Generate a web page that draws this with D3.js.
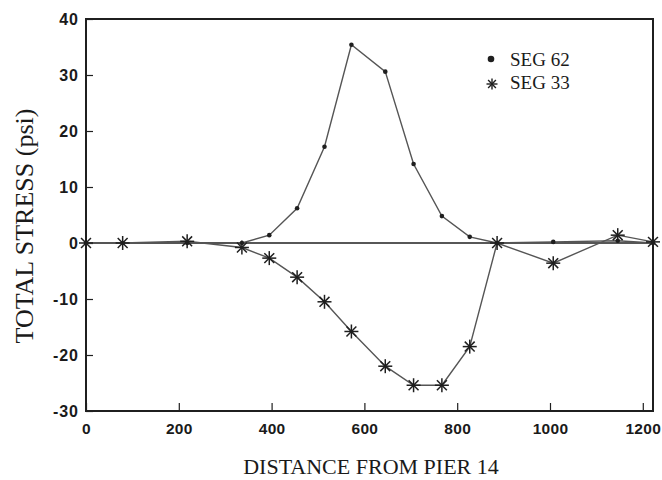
<!DOCTYPE html>
<html>
<head>
<meta charset="utf-8">
<script src="https://cdn.jsdelivr.net/npm/d3@7"></script>
<style>
  body { margin: 0; background: #fff; }
  svg { display: block; }
  .tick text { font-family: "Liberation Sans", Arial, sans-serif; font-weight: bold; fill: #1a1a1a; }
  .title { font-family: "Liberation Serif", "Times New Roman", serif; fill: #1a1a1a; }
</style>
</head>
<body>
<svg id="chart" width="662" height="480"></svg>
<script>
// values
const distance = [0, 79, 218, 336, 395, 455, 514, 572, 645, 706, 767, 827, 886, 1007, 1146, 1222];
const seg62 = [0, 0, 0, 0, 1.4, 6.2, 17.2, 35.4, 30.6, 14.1, 4.8, 1.1, 0, 0.2, 0.4, 0];
const seg33 = [0, 0, 0.3, -0.8, -2.7, -6.1, -10.5, -15.8, -22, -25.4, -25.4, -18.5, 0, -3.6, 1.4, 0.2];
const xTicks = [0, 200, 400, 600, 800, 1000, 1200];
const yTicks = [-30, -20, -10, 0, 10, 20, 30, 40];
const seriesNames = ['SEG 62', 'SEG 33'];

const svg = d3.select('#chart');
const margin = {left: 86, right: 9, top: 19, bottom: 69};
const width = 662, height = 480;

const x = d3.scaleLinear().domain([0, 1222]).range([margin.left, width - margin.right]);
const y = d3.scaleLinear().domain([-30, 40]).range([height - margin.bottom, margin.top]);

const ink = '#1f1f1f';
const lineInk = '#555';

// axes, ticks point inward
const yAxis = svg.append('g')
  .attr('transform', `translate(${margin.left},0)`)
  .call(d3.axisLeft(y).tickValues(yTicks).tickSize(-7).tickPadding(7).tickFormat(d => String(d)));
const xAxis = svg.append('g')
  .attr('transform', `translate(0,${height - margin.bottom})`)
  .call(d3.axisBottom(x).tickValues(xTicks).tickSize(-8).tickPadding(12).tickFormat(d => String(d)));

yAxis.selectAll('.tick text').style('font-size', '16px').style('letter-spacing', '1px');
xAxis.selectAll('.tick text').style('font-size', '15.5px').style('letter-spacing', '0.3px');

[yAxis, xAxis].forEach(a => {
  a.select('.domain').remove();
  a.selectAll('.tick line').attr('stroke', ink).attr('stroke-width', 1.2);
});

// frame
svg.append('rect')
  .attr('x', x(0)).attr('y', y(40))
  .attr('width', x(1222) - x(0)).attr('height', y(-30) - y(40))
  .attr('fill', 'none').attr('stroke', ink).attr('stroke-width', 2);

// zero line
svg.append('line')
  .attr('x1', x(0)).attr('x2', x(1222))
  .attr('y1', y(0)).attr('y2', y(0))
  .attr('stroke', ink).attr('stroke-width', 1.5);

const line = d3.line().x(d => x(d[0])).y(d => y(d[1]));
const pts62 = distance.map((d, i) => [d, seg62[i]]);
const pts33 = distance.map((d, i) => [d, seg33[i]]);

svg.append('path').datum(pts62).attr('d', line)
  .attr('fill', 'none').attr('stroke', lineInk).attr('stroke-width', 1.4);
svg.append('path').datum(pts33).attr('d', line)
  .attr('fill', 'none').attr('stroke', lineInk).attr('stroke-width', 1.4);

function asterisk(g, r, w) {
  [0, 45, 90, 135].forEach(a => {
    g.append('line')
      .attr('x1', -r).attr('x2', r).attr('y1', 0).attr('y2', 0)
      .attr('transform', `rotate(${a})`)
      .attr('stroke', ink).attr('stroke-width', w);
  });
}

svg.selectAll('.dot62').data(pts62).enter().append('circle')
  .attr('class', 'dot62')
  .attr('cx', d => x(d[0])).attr('cy', d => y(d[1]))
  .attr('r', 2.3).attr('fill', ink);

svg.selectAll('.star33').data(pts33).enter().append('g')
  .attr('class', 'star33')
  .attr('transform', d => `translate(${x(d[0])},${y(d[1])})`)
  .each(function() { asterisk(d3.select(this), 7, 1.5); });

// legend
const legend = svg.append('g').attr('transform', 'translate(491,59)');
legend.append('circle').attr('r', 3.3).attr('fill', ink);
asterisk(legend.append('g').attr('transform', 'translate(1,25)'), 5.5, 1.4);
legend.selectAll('text').data(seriesNames).enter().append('text')
  .attr('class', 'title')
  .attr('x', 19).attr('y', (d, i) => 7 + i * 23)
  .style('font-size', '19px')
  .text(d => d);

// axis titles
svg.append('text').attr('class', 'title')
  .attr('x', 371).attr('y', 474)
  .attr('text-anchor', 'middle')
  .style('font-size', '22px')
  .text('DISTANCE FROM PIER 14');

svg.append('text').attr('class', 'title')
  .attr('transform', 'translate(33,226) rotate(-90)')
  .attr('text-anchor', 'middle')
  .style('font-size', '26px')
  .text('TOTAL STRESS (psi)');
</script>
</body>
</html>
